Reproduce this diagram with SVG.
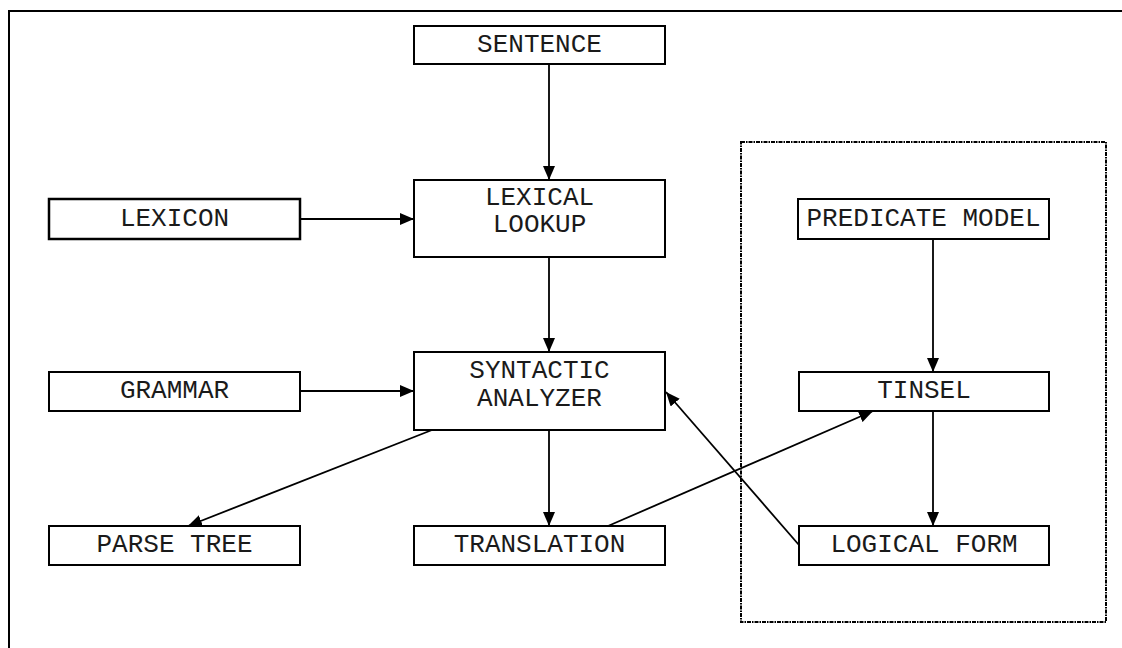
<svg xmlns="http://www.w3.org/2000/svg" width="1122" height="648" viewBox="0 0 1122 648">
<style>
.box{fill:#fff;stroke:#000;stroke-width:2}
.lbl{font-family:"Liberation Mono","Courier New",monospace;font-size:26px;fill:#1a1a1a;text-anchor:middle}
.con{fill:none;stroke:#000;stroke-width:1.8;marker-end:url(#ah)}
</style>
<defs>
<marker id="ah" markerUnits="userSpaceOnUse" markerWidth="14" markerHeight="12" refX="14" refY="6" orient="auto">
<path d="M0,0 L14,6 L0,12 z" fill="#000"/>
</marker>
</defs>
<rect width="1122" height="648" fill="#fff"/>
<path d="M9,648 V11 H1122" fill="none" stroke="#000" stroke-width="2"/>
<rect id="subsystem" x="741" y="142" width="365" height="480" fill="none" stroke="#000" stroke-width="2" stroke-dasharray="4,1,1.5,1"/>
<g id="connectors">
<line class="con" x1="549" y1="64" x2="549" y2="180"/>
<line class="con" x1="300" y1="219" x2="414" y2="219"/>
<line class="con" x1="549" y1="257" x2="549" y2="352"/>
<line class="con" x1="300" y1="391" x2="414" y2="391"/>
<line class="con" x1="432" y1="430" x2="188" y2="526"/>
<line class="con" x1="549" y1="430" x2="549" y2="526"/>
<line class="con" x1="608" y1="526" x2="873" y2="411"/>
<line class="con" x1="799" y1="545" x2="666" y2="392"/>
<line class="con" x1="933" y1="239" x2="933" y2="372"/>
<line class="con" x1="933" y1="411" x2="933" y2="526"/>
</g>
<g id="sentence"><rect class="box" x="414" y="26" width="251" height="38"/><text class="lbl" x="539.5" y="52">SENTENCE</text></g>
<g id="lexical-lookup"><rect class="box" x="414" y="180" width="251" height="77"/><text class="lbl" x="539.5" y="205">LEXICAL</text><text class="lbl" x="539.5" y="232">LOOKUP</text></g>
<g id="lexicon"><rect class="box" x="49" y="199" width="251" height="40" style="stroke-width:2.5"/><text class="lbl" x="174.5" y="225.5">LEXICON</text></g>
<g id="predicate-model"><rect class="box" x="798" y="199" width="251" height="40"/><text class="lbl" x="923.5" y="225.5">PREDICATE MODEL</text></g>
<g id="syntactic-analyzer"><rect class="box" x="414" y="352" width="251" height="78"/><text class="lbl" x="539.5" y="378">SYNTACTIC</text><text class="lbl" x="539.5" y="406">ANALYZER</text></g>
<g id="grammar"><rect class="box" x="49" y="372" width="251" height="39"/><text class="lbl" x="174.5" y="398">GRAMMAR</text></g>
<g id="tinsel"><rect class="box" x="799" y="372" width="250" height="39"/><text class="lbl" x="924" y="398">TINSEL</text></g>
<g id="parse-tree"><rect class="box" x="49" y="526" width="251" height="39"/><text class="lbl" x="174.5" y="552">PARSE TREE</text></g>
<g id="translation"><rect class="box" x="414" y="526" width="251" height="39"/><text class="lbl" x="539.5" y="552">TRANSLATION</text></g>
<g id="logical-form"><rect class="box" x="799" y="526" width="250" height="39"/><text class="lbl" x="924" y="552">LOGICAL FORM</text></g>
</svg>
